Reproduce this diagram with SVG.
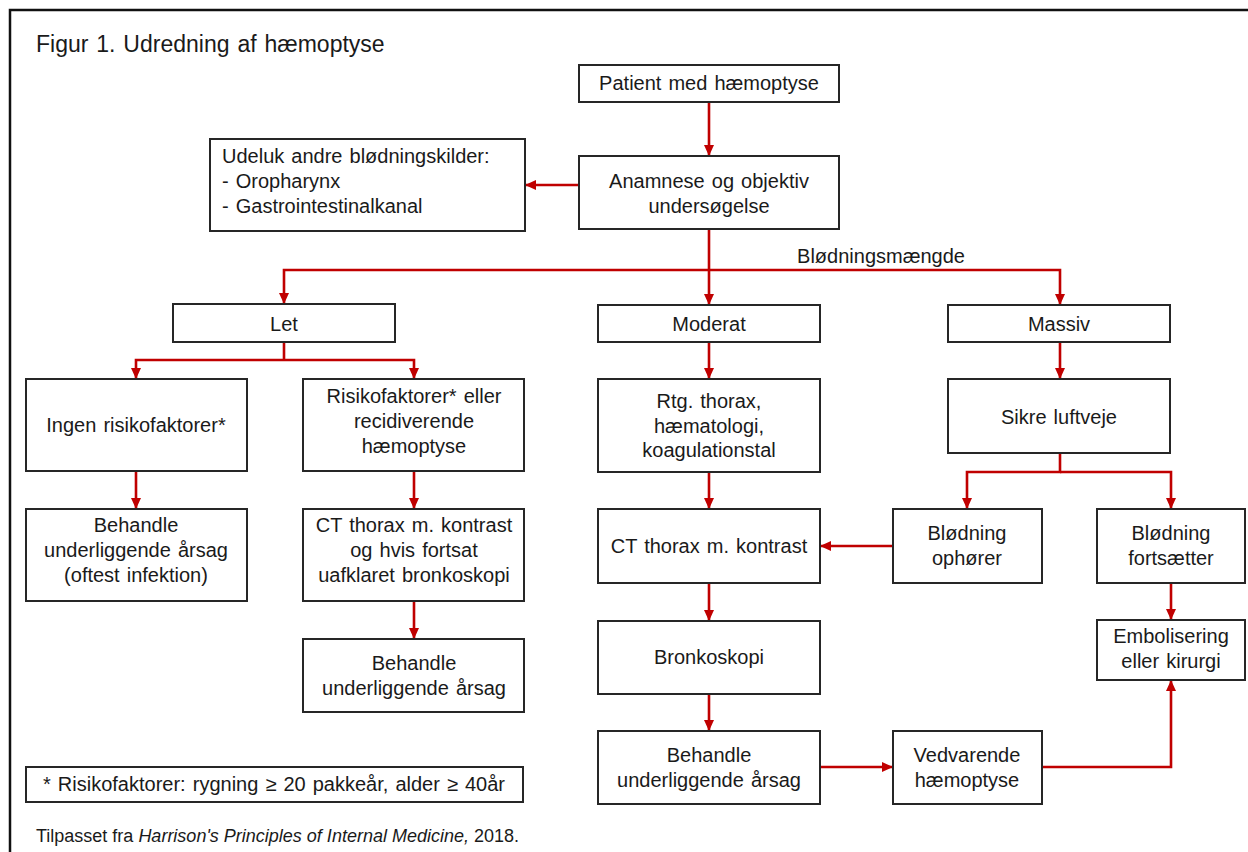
<svg xmlns="http://www.w3.org/2000/svg" width="1248" height="852" viewBox="0 0 1248 852">
<style>
  text { font-family: "Liberation Sans", Arial, sans-serif; fill: #1a1a1a; font-size: 20px; word-spacing: 1.5px; }
  .c { text-anchor: middle; }
  .box { fill: #ffffff; stroke: #262626; stroke-width: 2; }
  .con { fill: none; stroke: #C00000; stroke-width: 2.6; }
  .arr { marker-end: url(#ah); }
</style>
<defs>
  <marker id="ah" markerUnits="userSpaceOnUse" markerWidth="11" markerHeight="10" refX="11" refY="5" orient="auto">
    <path d="M0,0 L11,5 L0,10 z" fill="#C00000"/>
  </marker>
</defs>
<rect x="0" y="0" width="1248" height="852" fill="#ffffff"/>
<rect x="10" y="10" width="1260" height="900" fill="none" stroke="#111111" stroke-width="2.5"/>
<text x="36" y="52" style="font-size:23px">Figur 1. Udredning af hæmoptyse</text>

<g id="connectors">
  <path class="con arr" d="M709,102 V156"/>
  <path class="con arr" d="M579,185 H525"/>
  <path class="con arr" d="M709,229 V305"/>
  <path class="con arr" d="M709,270 H284 V304"/>
  <path class="con arr" d="M709,270 H1060 V305"/>
  <path class="con" d="M284,342 V360"/>
  <path class="con arr" d="M284,360 H136 V379"/>
  <path class="con arr" d="M284,360 H414 V379"/>
  <path class="con arr" d="M136,471 V509"/>
  <path class="con arr" d="M414,471 V509"/>
  <path class="con arr" d="M414,601 V639"/>
  <path class="con arr" d="M709,342 V379"/>
  <path class="con arr" d="M709,472 V509"/>
  <path class="con arr" d="M709,583 V621"/>
  <path class="con arr" d="M709,694 V731"/>
  <path class="con arr" d="M820,767 H893"/>
  <path class="con arr" d="M1042,767 H1171 V680"/>
  <path class="con arr" d="M1060,342 V379"/>
  <path class="con arr" d="M1060,453 V472 H967 V509"/>
  <path class="con arr" d="M1060,472 H1171 V509"/>
  <path class="con arr" d="M1171,583 V620"/>
  <path class="con arr" d="M893,546 H820"/>
</g>
<text class="c" x="881" y="263">Blødningsmængde</text>

<g id="patient">
  <rect class="box" x="579" y="65" width="260" height="37"/>
  <text class="c" x="709" y="90">Patient med hæmoptyse</text>
</g>
<g id="anamnese">
  <rect class="box" x="579" y="156" width="260" height="73"/>
  <text class="c" x="709" y="188">Anamnese og objektiv</text>
  <text class="c" x="709" y="213">undersøgelse</text>
</g>
<g id="udeluk">
  <rect class="box" x="210" y="139" width="315" height="92"/>
  <text x="222" y="163">Udeluk andre blødningskilder:</text>
  <text x="222" y="188">- Oropharynx</text>
  <text x="222" y="213">- Gastrointestinalkanal</text>
</g>
<g id="let">
  <rect class="box" x="173" y="304" width="222" height="38"/>
  <text class="c" x="284" y="331">Let</text>
</g>
<g id="moderat">
  <rect class="box" x="598" y="305" width="222" height="37"/>
  <text class="c" x="709" y="331">Moderat</text>
</g>
<g id="massiv">
  <rect class="box" x="948" y="305" width="222" height="37"/>
  <text class="c" x="1059" y="331">Massiv</text>
</g>
<g id="ingen">
  <rect class="box" x="26" y="379" width="221" height="92"/>
  <text class="c" x="136" y="432">Ingen risikofaktorer*</text>
</g>
<g id="risiko">
  <rect class="box" x="303" y="379" width="221" height="92"/>
  <text class="c" x="414" y="403">Risikofaktorer* eller</text>
  <text class="c" x="414" y="428">recidiverende</text>
  <text class="c" x="414" y="453">hæmoptyse</text>
</g>
<g id="behandle1">
  <rect class="box" x="26" y="509" width="221" height="92"/>
  <text class="c" x="136" y="532">Behandle</text>
  <text class="c" x="136" y="557">underliggende årsag</text>
  <text class="c" x="136" y="582">(oftest infektion)</text>
</g>
<g id="ct-left">
  <rect class="box" x="303" y="509" width="221" height="92"/>
  <text class="c" x="414" y="532">CT thorax m. kontrast</text>
  <text class="c" x="414" y="557">og hvis fortsat</text>
  <text class="c" x="414" y="582">uafklaret bronkoskopi</text>
</g>
<g id="behandle2">
  <rect class="box" x="303" y="639" width="221" height="73"/>
  <text class="c" x="414" y="670">Behandle</text>
  <text class="c" x="414" y="695">underliggende årsag</text>
</g>
<g id="rtg">
  <rect class="box" x="598" y="379" width="222" height="93"/>
  <text class="c" x="709" y="408">Rtg. thorax,</text>
  <text class="c" x="709" y="433">hæmatologi,</text>
  <text class="c" x="709" y="457">koagulationstal</text>
</g>
<g id="ct-mid">
  <rect class="box" x="598" y="509" width="222" height="74"/>
  <text class="c" x="709" y="553">CT thorax m. kontrast</text>
</g>
<g id="bronkoskopi">
  <rect class="box" x="598" y="621" width="222" height="73"/>
  <text class="c" x="709" y="664">Bronkoskopi</text>
</g>
<g id="behandle3">
  <rect class="box" x="598" y="731" width="222" height="73"/>
  <text class="c" x="709" y="762">Behandle</text>
  <text class="c" x="709" y="787">underliggende årsag</text>
</g>
<g id="sikre">
  <rect class="box" x="948" y="379" width="222" height="74"/>
  <text class="c" x="1059" y="424">Sikre luftveje</text>
</g>
<g id="ophorer">
  <rect class="box" x="893" y="509" width="149" height="74"/>
  <text class="c" x="967" y="540">Blødning</text>
  <text class="c" x="967" y="565">ophører</text>
</g>
<g id="fortsaetter">
  <rect class="box" x="1097" y="509" width="148" height="74"/>
  <text class="c" x="1171" y="540">Blødning</text>
  <text class="c" x="1171" y="565">fortsætter</text>
</g>
<g id="embolisering">
  <rect class="box" x="1097" y="620" width="148" height="60"/>
  <text class="c" x="1171" y="643">Embolisering</text>
  <text class="c" x="1171" y="668">eller kirurgi</text>
</g>
<g id="vedvarende">
  <rect class="box" x="893" y="731" width="149" height="73"/>
  <text class="c" x="967" y="762">Vedvarende</text>
  <text class="c" x="967" y="787">hæmoptyse</text>
</g>
<g id="note">
  <rect class="box" x="26" y="767" width="497" height="35"/>
  <text class="c" x="274" y="791">* Risikofaktorer:  rygning ≥ 20 pakkeår,  alder ≥ 40år</text>
</g>
<text x="36" y="842" style="font-size:18px; word-spacing:0">Tilpasset fra <tspan font-style="italic">Harrison's Principles of Internal Medicine,</tspan> 2018.</text>
</svg>
